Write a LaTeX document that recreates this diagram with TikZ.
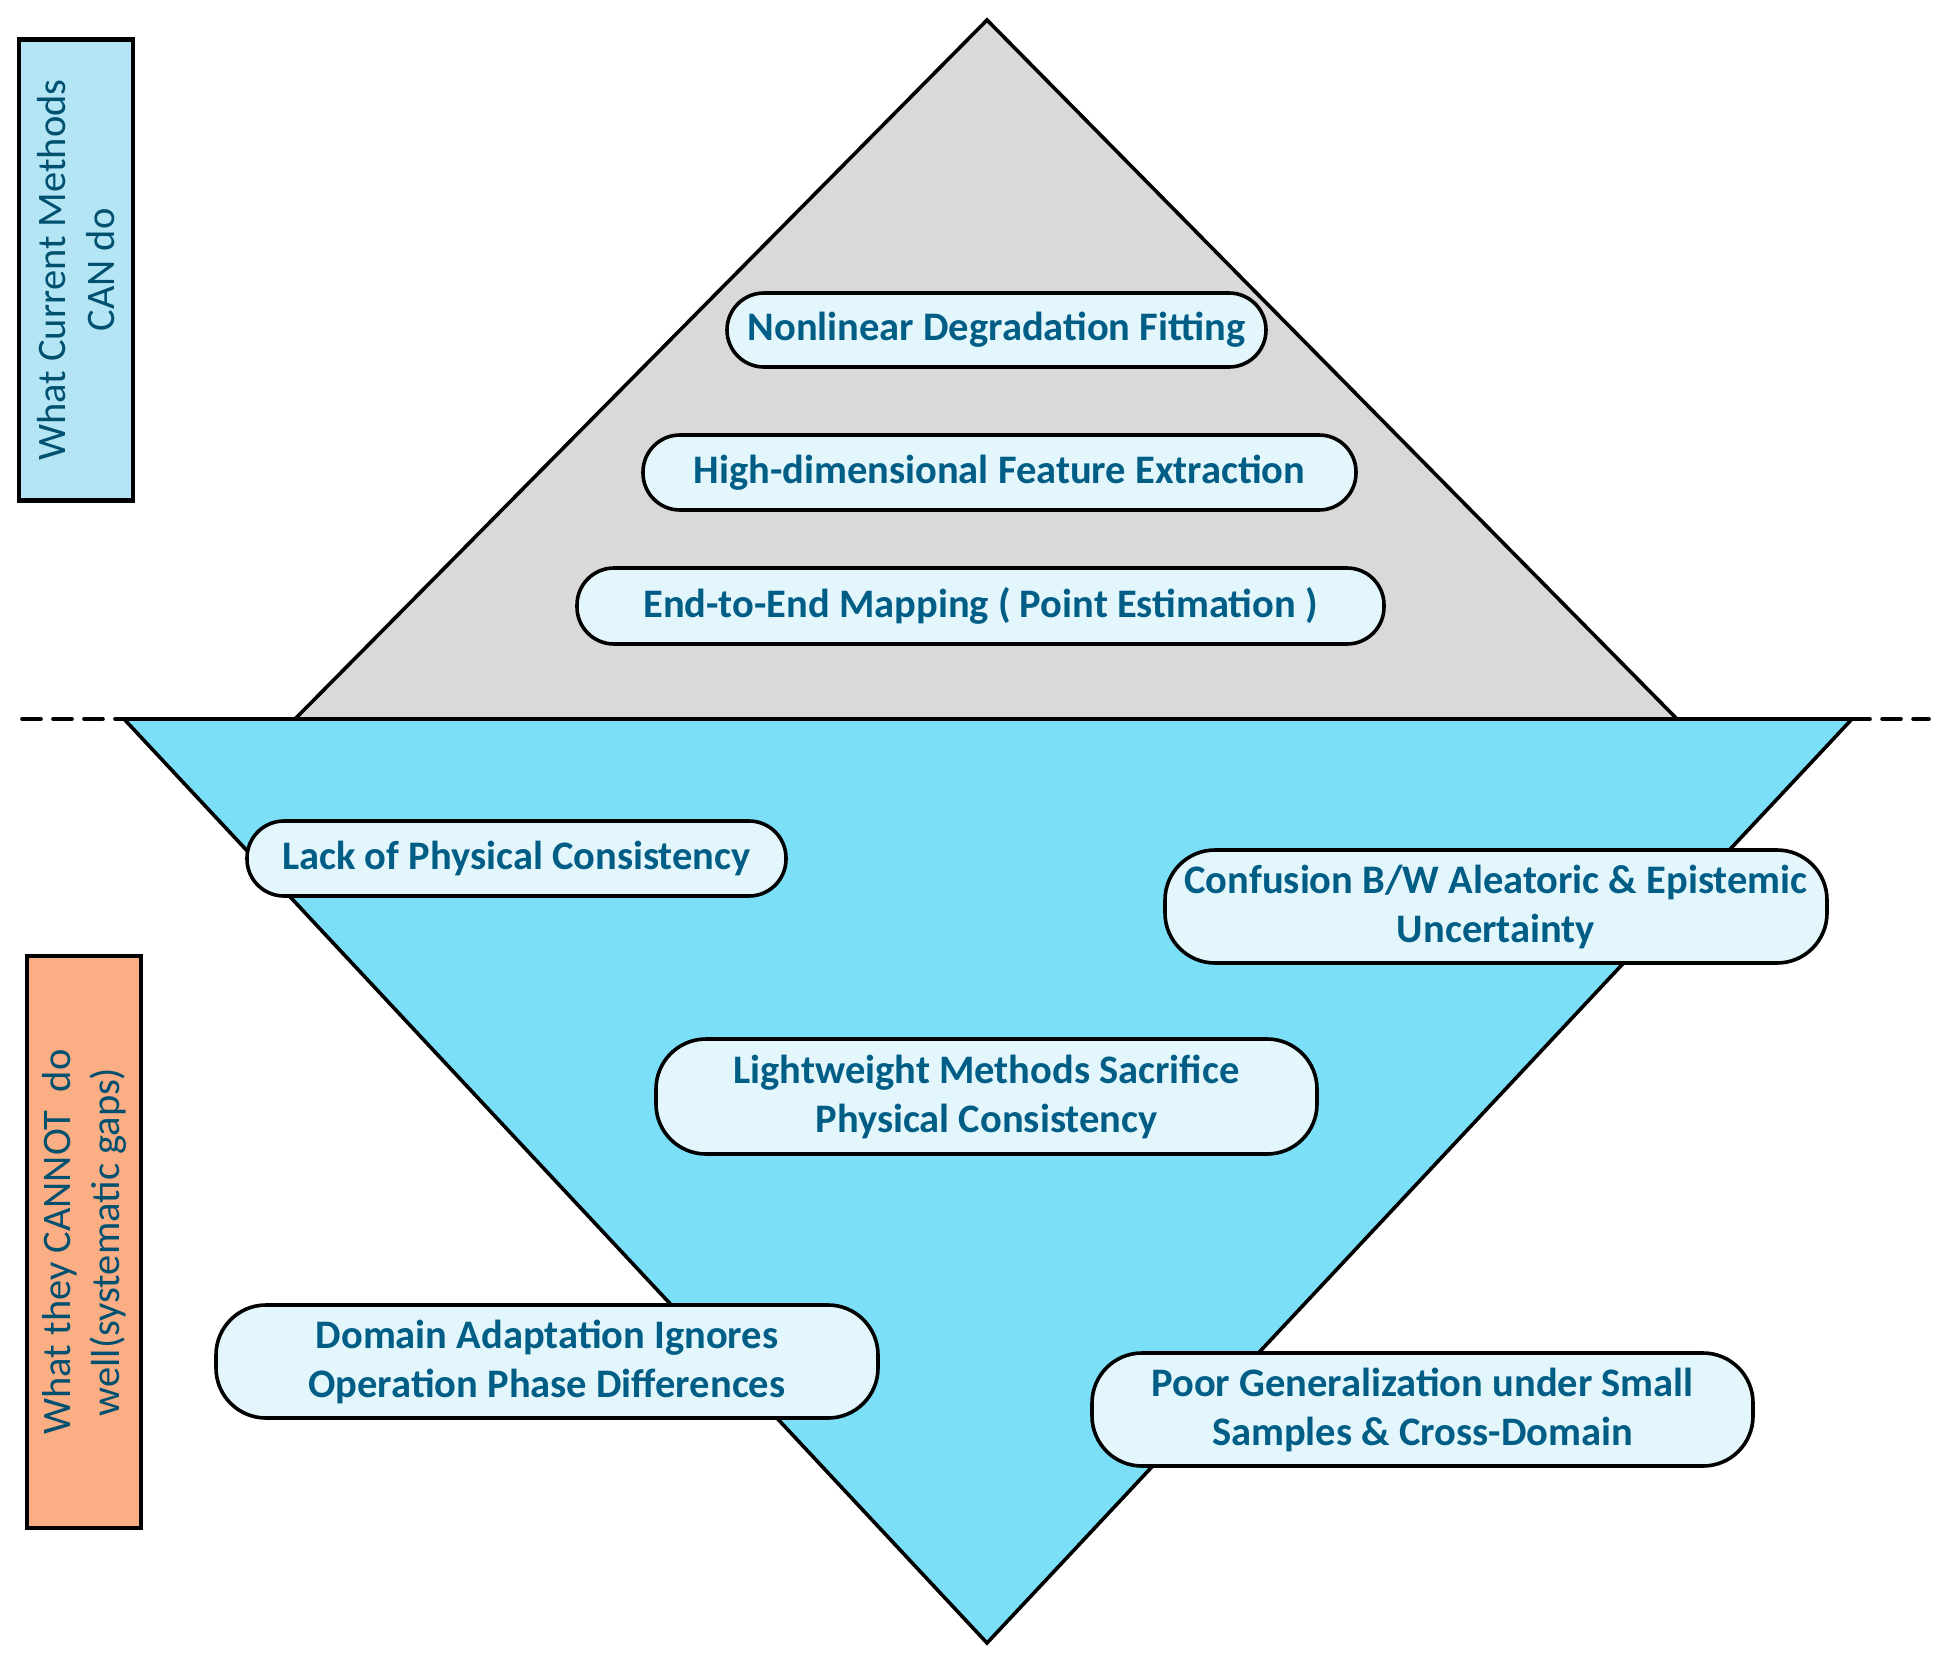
\documentclass[tikz,border=0pt]{standalone}
\usepackage{fontspec}
\setmainfont{Carlito}
\definecolor{grayfill}{RGB}{217,217,217}
\definecolor{seablue}{RGB}{123,223,247}
\definecolor{pillfill}{RGB}{226,246,252}
\definecolor{pilltext}{RGB}{0,94,134}
\definecolor{labtext}{RGB}{0,80,112}
\definecolor{canfill}{RGB}{179,229,245}
\definecolor{cannotfill}{RGB}{251,173,132}
\tikzset{
  tri/.style={draw=black, line width=3.6pt},
  waterline/.style={draw=black, line width=3.6pt, dash pattern=on 19pt off 12pt, line cap=round},
  pill/.style={draw=black, line width=3.6pt, fill=pillfill, rounded corners=#1, text=pilltext,
    font=\fontsize{40.5}{49}\selectfont\bfseries, align=center, inner sep=0pt},
  pill/.default=37pt,
  sidebox/.style={draw=black, line width=4.5pt, rotate=90, text=labtext,
    font=\fontsize{40.5}{49}\selectfont, align=center, inner sep=0pt}
}
\begin{document}
\begin{tikzpicture}[x=1pt,y=-1pt]
\useasboundingbox (0,0) rectangle (1945,1662);
% iceberg
\coordinate (gtop) at (987,20);
\coordinate (gl) at (295,719);
\coordinate (gr) at (1677,719);
\coordinate (bl) at (124,719);
\coordinate (br) at (1852,719);
\coordinate (bbot) at (987,1643);
\coordinate (wl) at (22,719);
\coordinate (wr) at (1929,719);
\draw[tri, fill=grayfill] (gtop) -- (gr) -- (gl) -- cycle;
\draw[waterline] (wl) -- (wr);
\draw[tri, fill=seablue] (bl) -- (br) -- (bbot) -- cycle;
% side labels
\node[sidebox, fill=canfill, minimum width=461pt, minimum height=114pt] (can) at (76,270)
  {What Current Methods\\CAN do};
\node[sidebox, fill=cannotfill, minimum width=572pt, minimum height=114pt] (cannot) at (84,1242)
  {What they CANNOT\ \ do\\well(systematic gaps)};
% pills
\node[pill, minimum width=539pt, minimum height=74pt] (p1) at (996.5,330) {Nonlinear Degradation Fitting};
\node[pill, minimum width=713pt, minimum height=75pt] (p2) at (999.5,472.5) {High-dimensional Feature Extraction};
\node[pill, minimum width=807pt, minimum height=76pt] (p3) at (980.5,606) {End-to-End Mapping ( Point Estimation )};
\node[pill, minimum width=539pt, minimum height=75pt] (p4) at (516.5,858.5) {Lack of Physical Consistency};
\node[pill=50pt, minimum width=662pt, minimum height=113pt] (p5) at (1496,906.5) {Confusion B/W Aleatoric \& Epistemic\\Uncertainty};
\node[pill=50pt, minimum width=661pt, minimum height=115pt] (p6) at (986.5,1096.5) {Lightweight Methods Sacrifice\\Physical Consistency};
\node[pill=50pt, minimum width=662pt, minimum height=113pt] (p7) at (547,1361.5) {Domain Adaptation Ignores\\Operation Phase Differences};
\node[pill=50pt, minimum width=661pt, minimum height=113pt] (p8) at (1422.5,1409.5) {Poor Generalization under Small\\Samples \& Cross-Domain};
\end{tikzpicture}
\end{document}
